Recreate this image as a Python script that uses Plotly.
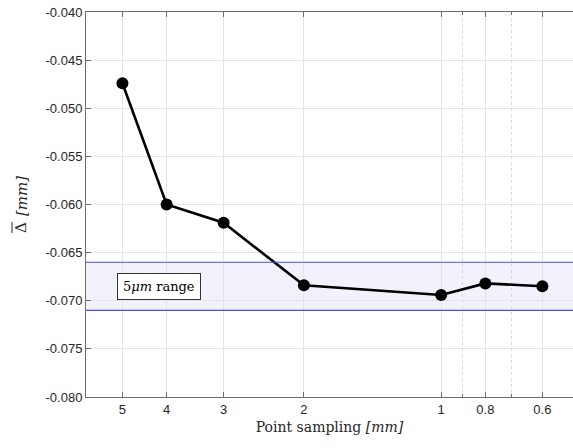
import math
import plotly.graph_objects as go

# Data
sampling_mm = [5, 4, 3, 2, 1, 0.8, 0.6]
delta_mean = [-0.0474, -0.0600, -0.0619, -0.0684, -0.0694, -0.0682, -0.0685]
band_limits = [-0.0660, -0.0710]
x_tick_vals = [5, 4, 3, 2, 1, 0.8, 0.6]
x_tick_text = ["5", "4", "3", "2", "1", "0.8", "0.6"]
x_minor_vals = [0.9, 0.7]
y_tick_vals = [-0.080, -0.075, -0.070, -0.065, -0.060, -0.055, -0.050, -0.045, -0.040]
y_tick_text = ["-0.080", "-0.075", "-0.070", "-0.065", "-0.060", "-0.055", "-0.050", "-0.045", "-0.040"]
band_label = "5<i>μm</i> range"
x_title = "Point sampling <i>[mm]</i>"
y_title_symbol = "Δ"
y_title_unit = "<i>[mm]</i>"

axis_col = "#6e6e6e"
grid_col = "#e4e4e4"
serif = "DejaVu Serif"

W, H = 573, 448
ML, MR, MT, MB = 86, 0, 12, 51

fig = go.Figure()
fig.add_trace(go.Scatter(
    x=sampling_mm, y=delta_mean, mode="lines+markers",
    line=dict(color="black", width=2.6),
    marker=dict(color="black", size=12),
    showlegend=False,
))

# band
fig.add_shape(type="rect", xref="paper", yref="y", x0=0, x1=1,
              y0=band_limits[1], y1=band_limits[0],
              fillcolor="rgba(90,90,235,0.08)", line=dict(width=0), layer="below")
for yv in band_limits:
    fig.add_shape(type="line", xref="paper", yref="y", x0=0, x1=1, y0=yv, y1=yv,
                  line=dict(color="#4a4aff", width=1.2))

fig.add_annotation(x=math.log10(4.15), y=sum(band_limits) / 2, xref="x", yref="y",
                   text=band_label, showarrow=False,
                   font=dict(family=serif, size=13, color="black"),
                   bgcolor="white", bordercolor="#333", borderwidth=1, borderpad=5)

# y-axis title pieces (pixel offsets relative to plot bottom-left corner)
plot_bottom = H - MB
fig.add_annotation(x=0, y=0, xref="paper", yref="paper",
                   xshift=20.5 - ML, yshift=plot_bottom - 227.5,
                   text=y_title_symbol, textangle=-90, showarrow=False,
                   xanchor="center", yanchor="middle",
                   font=dict(family=serif, size=15, color="#262626"))
fig.add_annotation(x=0, y=0, xref="paper", yref="paper",
                   xshift=21.5 - ML, yshift=plot_bottom - 196.5,
                   text=y_title_unit, textangle=-90, showarrow=False,
                   xanchor="center", yanchor="middle",
                   font=dict(family=serif, size=15, color="#262626"))
# overline over the Delta
fig.add_shape(type="line", xref="paper", yref="paper",
              xsizemode="pixel", ysizemode="pixel", xanchor=0, yanchor=0,
              x0=12 - ML, x1=12 - ML, y0=plot_bottom - 233, y1=plot_bottom - 222,
              line=dict(color="#262626", width=1))

fig.update_layout(
    width=W, height=H,
    margin=dict(l=ML, r=MR, t=MT, b=MB),
    paper_bgcolor="white", plot_bgcolor="white",
    font=dict(family="Liberation Sans", size=13, color="#262626"),
    xaxis=dict(
        type="log", range=[math.log10(6.01), math.log10(0.514)],
        tickmode="array", tickvals=x_tick_vals, ticktext=x_tick_text,
        ticks="inside", ticklen=5, tickcolor=axis_col,
        showline=True, linecolor=axis_col, linewidth=1, mirror="ticks",
        showgrid=True, gridcolor=grid_col, gridwidth=1,
        minor=dict(tickmode="array", tickvals=x_minor_vals, showgrid=True,
                   gridcolor="#d8d8d8", griddash="dot", ticks="inside",
                   ticklen=3, tickcolor=axis_col),
        zeroline=False,
        title=dict(text=x_title,
                   font=dict(family=serif, size=14, color="#262626"),
                   standoff=6),
    ),
    yaxis=dict(
        range=[-0.080, -0.040],
        tickmode="array", tickvals=y_tick_vals, ticktext=y_tick_text,
        ticks="inside", ticklen=5, tickcolor=axis_col,
        showline=True, linecolor=axis_col, linewidth=1, mirror=False,
        showgrid=True, gridcolor=grid_col, gridwidth=1,
        zeroline=False,
    ),
)

fig.write_html("out.html",
               config={"displayModeBar": False},
               post_script="document.body.style.margin='0';document.body.style.overflow='hidden';")
